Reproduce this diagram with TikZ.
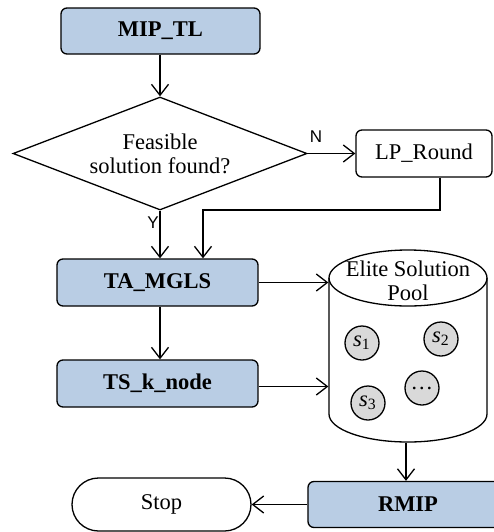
\documentclass[tikz,border=0pt]{standalone}
\usepackage{fontspec}
\setmainfont{Liberation Serif}
\newfontfamily\labsans{Liberation Sans}
\usetikzlibrary{shapes.geometric,shapes.misc,arrows.meta}
\definecolor{boxblue}{RGB}{185,205,228}
\definecolor{poolgray}{RGB}{217,217,217}
\begin{document}
\begin{tikzpicture}[x=0.5pt,y=-0.5pt, line width=0.65pt,
  every node/.style={font=\fontsize{11.25}{12}\selectfont},
  bluebox/.style={draw, rounded corners=3pt, fill=boxblue, minimum width=100.5pt, minimum height=23.5pt, inner sep=0pt, font=\fontsize{11.25}{12}\selectfont\bfseries},
  plainbox/.style={draw, rounded corners=3pt, fill=white, inner sep=0pt},
  decision/.style={diamond, draw, aspect=2.6, minimum width=147pt, minimum height=56.5pt, inner sep=0pt, align=center},
  stopbox/.style={rounded rectangle, draw, minimum width=89.5pt, minimum height=26.5pt, inner sep=0pt},
  arr/.style={-{Straight Barb[length=5.5pt,width=8.5pt]}},
  sol/.style={circle, draw, fill=poolgray, minimum size=17pt, inner sep=0pt},
  lab/.style={font=\labsans\fontsize{8.5}{10}\selectfont}]

\useasboundingbox (0,0) rectangle (494,532);
\clip (0,0) rectangle (494,532);

% nodes
\node[bluebox, minimum width=99.5pt, minimum height=23pt] (mip) at (160.5,31) {MIP\_TL};
\node[decision] (dia) at (160,153.5) {Feasible\\solution found?};
\node[plainbox, minimum width=68pt, minimum height=23.5pt] (lp) at (424,153.5) {LP\_Round};
\node[bluebox] (ta) at (157.5,282.5) {TA\_MGLS};
\node[bluebox] (ts) at (157.5,383.5) {TS\_k\_node};
\node[bluebox, minimum width=100pt, minimum height=23pt] (rmip) at (408,504.5) {RMIP};
\node[stopbox] (stop) at (161.5,504.5) {Stop};

% elite solution pool (cylinder)
\node[minimum width=79pt, minimum height=96pt, inner sep=0pt] (pool) at (408,346) {};
\draw[fill=white] (329,278) -- (329,414) arc[start angle=180, end angle=360, x radius=39.5pt, y radius=14pt] -- (487,278);
\draw (408,278) ellipse [x radius=39.5pt, y radius=14pt];
\node[align=center] (pooltxt) at (408,281) {Elite Solution\\Pool};
\node[sol] (s1) at (362,343) {\textit{s}\textsubscript{1}};
\node[sol] (s2) at (441,339) {\textit{s}\textsubscript{2}};
\node[sol] (s3) at (368,403) {\textit{s}\textsubscript{3}};
\node[sol] (sd) at (422,388) {\raisebox{-2pt}{\ldots}};

% labels
\node[lab] (nlab) at (316,137) {N};
\node[lab] (ylab) at (153,223) {Y};

% connectors
\coordinate (bend) at (203,210);
\draw[arr] (dia.north |- mip.south) -- (dia.north);
\draw[arr] (dia.east) -- (lp.west);
\draw[arr] (dia.south) -- (dia.south |- ta.north);
\draw[arr] ([xshift=8pt]lp.south) |- (bend) -- (bend |- ta.north);
\draw[arr] (dia.south |- ta.south) -- (dia.south |- ts.north);
\draw[arr] (ta.east) -- (ta.east -| pool.west);
\draw[arr] ([yshift=-1.5pt]ts.east) -- ([yshift=-1.5pt]ts.east -| pool.west);
\draw[arr] ([xshift=-1pt]pool.south) -- ([xshift=-1pt]pool.south |- rmip.north);
\draw[arr] (rmip.west) -- (stop.east);
\end{tikzpicture}
\end{document}
